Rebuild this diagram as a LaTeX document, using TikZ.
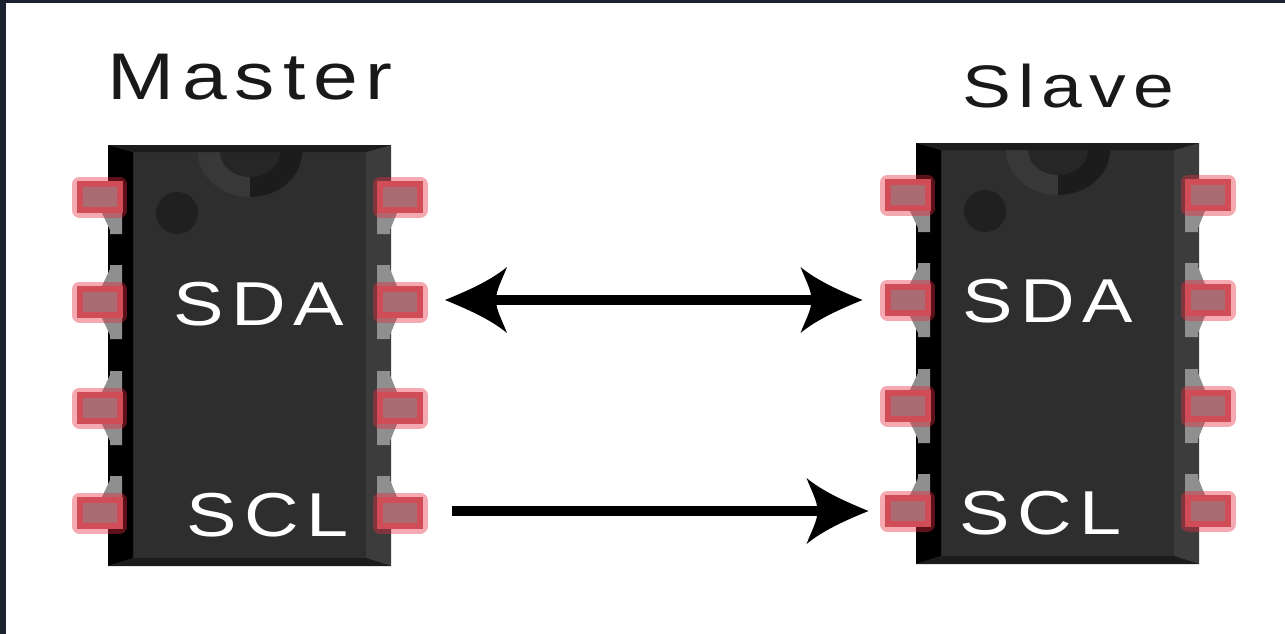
\documentclass[tikz,border=0pt]{standalone}
\usepackage{fontspec}
\setmainfont[FakeStretch=1.22,LetterSpace=12]{Liberation Sans}
\definecolor{framecol}{HTML}{1B2230}
\definecolor{bodycol}{HTML}{2E2E2E}
\definecolor{sidecol}{HTML}{3C3C3C}
\definecolor{edgecol}{HTML}{1C1C1C}
\definecolor{legcol}{HTML}{8F8F8F}
\definecolor{padcol}{HTML}{A86C72}
\definecolor{ringcol}{HTML}{D04C56}
\definecolor{halocol}{HTML}{E8283A}

\pgfdeclarearrow{
	name=Barb,
	setup code={
		\pgfarrowssettipend{0pt}
		\pgfarrowssetlineend{-45pt}
		\pgfarrowssetvisualbackend{-51pt}
		\pgfarrowssetbackend{-62pt}
		\pgfarrowshullpoint{0pt}{0pt}
		\pgfarrowshullpoint{-62pt}{32pt}
		\pgfarrowshullpoint{-62pt}{-32pt}
	},
	drawing code={
		\pgfpathmoveto{\pgfpointorigin}
		\pgfpathcurveto{\pgfpoint{-22pt}{9pt}}{\pgfpoint{-45pt}{19pt}}{\pgfpoint{-62pt}{33pt}}
		\pgfpathcurveto{\pgfpoint{-57pt}{20pt}}{\pgfpoint{-51pt}{10pt}}{\pgfpoint{-51pt}{0pt}}
		\pgfpathcurveto{\pgfpoint{-51pt}{-10pt}}{\pgfpoint{-57pt}{-20pt}}{\pgfpoint{-62pt}{-33pt}}
		\pgfpathcurveto{\pgfpoint{-45pt}{-19pt}}{\pgfpoint{-22pt}{-9pt}}{\pgfpointorigin}
		\pgfpathclose
		\pgfusepathqfill
	},
}

\begin{document}
\begin{tikzpicture}[
	x=1pt, y=-1pt,
	pad/.style={ rectangle, draw=ringcol, fill=padcol, line width=6pt, inner sep=0pt, outer sep=8pt, minimum width=40pt, minimum height=26pt,
		preaction={draw=halocol, draw opacity=.4, line width=15pt, line join=round} },
	leg/.style={ fill=legcol },
	title/.style={ text=black!90, font=\fontsize{66}{66}\selectfont },
	pinname/.style={ text=white, font=\fontsize{62}{62}\selectfont },
	wire/.style={ line width=10pt, Barb-Barb },
	chip/.pic={
		% package body
		\fill[bodycol] (0,0) rectangle (283,421);
		% notch and dot
		\fill[sidecol!70!bodycol] (142,7) -- (90,7) arc[start angle=180, end angle=90, x radius=52, y radius=45] -- cycle;
		\fill[edgecol] (142,7) -- (194,7) arc[start angle=0, end angle=90, x radius=52, y radius=45] -- cycle;
		\fill[black!18!bodycol] (112,7) arc[start angle=180, end angle=0, x radius=30, y radius=25] -- cycle;
		\fill[black!30!bodycol] (69,68) circle[radius=21];
		% bevels
		\fill[black] (0,0) -- (25,7) -- (25,413) -- (0,421) -- cycle;
		\fill[sidecol] (283,0) -- (258,7) -- (258,413) -- (283,421) -- cycle;
		\fill[edgecol] (0,0) -- (283,0) -- (258,7) -- (25,7) -- cycle;
		\fill[edgecol] (0,421) -- (283,421) -- (258,413) -- (25,413) -- cycle;
		% legs
		\foreach \yy in {52,157,263} {
			\fill[leg] (-6,\yy+16) -- (2,\yy+33) -- (2,\yy+37) -- (14,\yy+37) -- (14,\yy+16) -- cycle;
			\fill[leg] (269,\yy+16) -- (289,\yy+16) -- (282,\yy+33) -- (282,\yy+37) -- (269,\yy+37) -- cycle;
		}
		\foreach \yy in {157,263,368} {
			\fill[leg] (-6,\yy-16) -- (2,\yy-33) -- (2,\yy-37) -- (14,\yy-37) -- (14,\yy-16) -- cycle;
			\fill[leg] (269,\yy-16) -- (289,\yy-16) -- (282,\yy-33) -- (282,\yy-37) -- (269,\yy-37) -- cycle;
		}
		% pads
		\foreach \i/\yy in {1/52,2/157,3/263,4/368} {
			\node at (-8.5,\yy) (-l\i) [pad] {};
			\node at (292,\yy) (-r\i) [pad] {};
		}
	},
]

\useasboundingbox (0,0) rectangle (1285,634);
\fill[framecol] (0,0) rectangle (1285,634);
\fill[white] (6,3) rectangle (1285,634);

\pic (master) at (108,145) {chip};
\pic (slave) at (916,143) {chip};

\node at (250,77) (mastertitle) [title] {Master};
\node at (1068,86) (slavetitle) [title, font=\fontsize{60}{60}\selectfont] {Slave};

\node at (259,304) (mastersda) [pinname] {SDA};
\node at (268,515) (masterscl) [pinname] {SCL};
\node at (1048,301) (slavesda) [pinname] {SDA};
\node at (1041,513) (slavescl) [pinname] {SCL};

\draw[wire, shorten <=17pt, shorten >=17pt] (master-r2.east |- slave-l2.west) to (slave-l2.west);
\draw[wire, -Barb, shorten <=24pt, shorten >=11pt] (master-r4.east |- slave-l4.west) to (slave-l4.west);

\end{tikzpicture}
\end{document}
